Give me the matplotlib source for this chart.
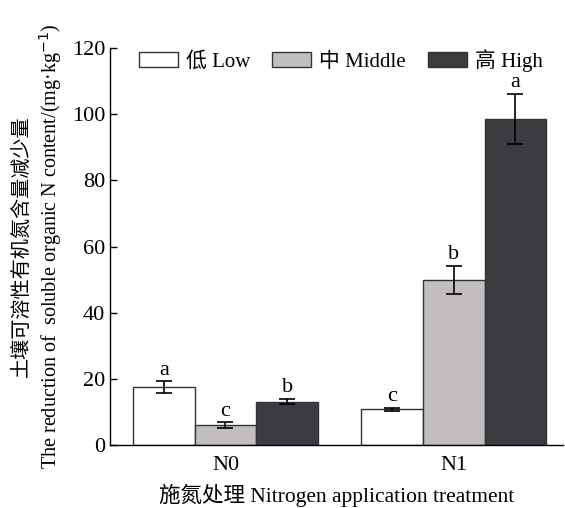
import numpy as np
import matplotlib
matplotlib.use("Agg")
import matplotlib.pyplot as plt

plt.rcParams['font.family'] = ['Liberation Serif', 'Noto Sans CJK SC']

groups = ['N0', 'N1']
levels = ['低 Low', '中 Middle', '高 High']
colors = ['#ffffff', '#c1bdc1', '#3d3b3f']

# reduction of soluble organic N (mg/kg)
values = [[17.5, 10.8], [6.0, 49.9], [13.1, 98.5]]
errors = [[1.7, 0.4], [0.9, 4.3], [0.8, 7.6]]
letters = [['a', 'c'], ['c', 'b'], ['b', 'a']]

fig = plt.figure(figsize=(5.65, 5.08), dpi=100)
ax = fig.add_axes([0.195, 0.124, 0.802, 0.7815])

x = np.arange(len(groups))
w = 0.27
for i, lev in enumerate(levels):
    pos = x + (i - 1) * w
    ax.bar(pos, values[i], width=w, color=colors[i], edgecolor='#333333',
           linewidth=1.0, label=lev, zorder=2)
    ax.errorbar(pos, values[i], yerr=errors[i], fmt='none', ecolor='black',
                elinewidth=1.2, capsize=6, capthick=1.2, zorder=3)
    for p, v, e, t in zip(pos, values[i], errors[i], letters[i]):
        ax.text(p, v + e + 0.5, t, ha='center', va='bottom', fontsize=16)

ax.set_xlim(-0.505, 1.48)
ax.set_ylim(0, 120)
ax.set_yticks(range(0, 121, 20))
ax.set_xticks(x)
ax.set_xticklabels(groups)
ax.tick_params(direction='in', labelsize=16, length=5, width=1)
ax.tick_params(axis='x', length=5, pad=8)
ax.spines['top'].set_visible(False)
ax.spines['right'].set_visible(False)
for s in ['left', 'bottom']:
    ax.spines[s].set_linewidth(1.0)

ax.set_xlabel('施氮处理 Nitrogen application treatment', fontsize=15.5, labelpad=6)
ax.set_ylabel('土壤可溶性有机氮含量减少量\nThe reduction of  soluble organic N content/(mg·kg$^{-1}$)',
              fontsize=14.5, linespacing=1.25, labelpad=6)

ax.legend(loc='center', bbox_to_anchor=(0.603, 0.881), bbox_transform=fig.transFigure,
          ncol=3, frameon=False, fontsize=15, handlelength=1.88, handleheight=0.77,
          columnspacing=1.05, handletextpad=0.38, borderpad=0.2)

fig.savefig('out.png', dpi=100)
